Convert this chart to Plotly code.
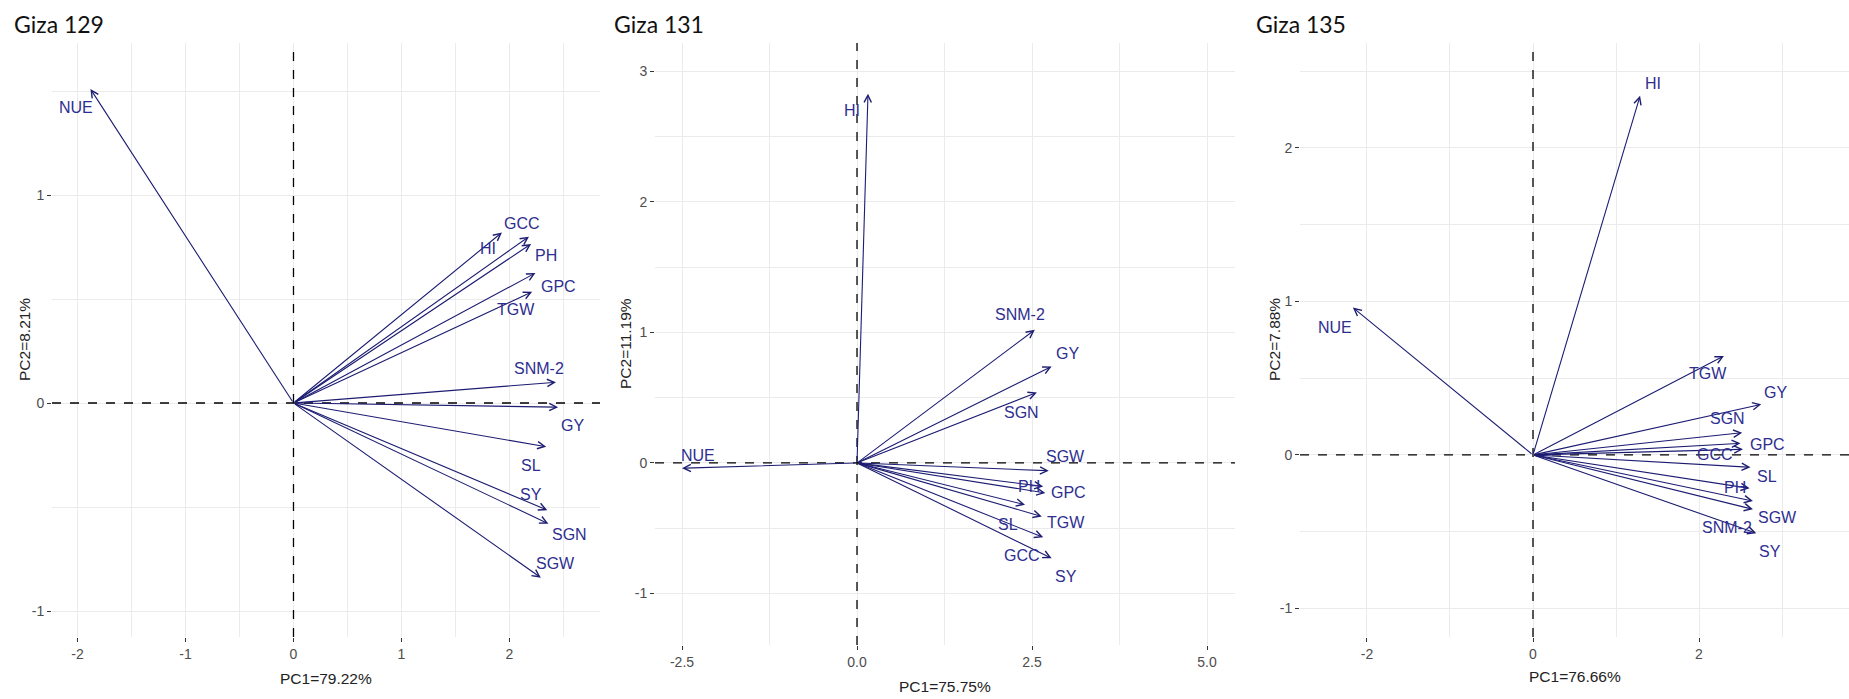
import plotly.graph_objects as go

# ---------------- data ----------------
titles = ["Giza 129", "Giza 131", "Giza 135"]
pc1_titles = ["PC1=79.22%", "PC1=75.75%", "PC1=76.66%"]
pc2_titles = ["PC2=8.21%", "PC2=11.19%", "PC2=7.88%"]

# Giza 129
vars_129 = ["NUE", "HI", "GCC", "PH", "GPC", "TGW", "SNM-2", "GY", "SL", "SY", "SGN", "SGW"]
pc1_129 = [-1.88, 1.93, 2.18, 2.20, 2.24, 2.21, 2.43, 2.45, 2.34, 2.35, 2.36, 2.29]
pc2_129 = [1.51, 0.82, 0.80, 0.765, 0.625, 0.535, 0.10, -0.02, -0.21, -0.515, -0.58, -0.84]
lab1_129 = [-2.01, 1.80, 2.12, 2.34, 2.45, 2.06, 2.27, 2.58, 2.20, 2.20, 2.56, 2.43]
lab2_129 = [1.42, 0.745, 0.865, 0.71, 0.56, 0.45, 0.165, -0.11, -0.30, -0.44, -0.63, -0.77]

# Giza 131
vars_131 = ["HI", "NUE", "SNM-2", "GY", "SGN", "SGW", "PH", "GPC", "SL", "TGW", "GCC", "SY"]
pc1_131 = [0.157, -2.50, 2.54, 2.78, 2.57, 2.74, 2.66, 2.69, 2.40, 2.64, 2.66, 2.78]
pc2_131 = [2.83, -0.04, 1.02, 0.74, 0.54, -0.06, -0.18, -0.23, -0.32, -0.41, -0.57, -0.73]
lab1_131 = [-0.07, -2.27, 2.33, 3.00, 2.35, 2.98, 2.45, 3.02, 2.16, 2.98, 2.35, 2.98]
lab2_131 = [2.70, 0.06, 1.14, 0.84, 0.39, 0.05, -0.18, -0.23, -0.47, -0.46, -0.71, -0.87]

# Giza 135
vars_135 = ["NUE", "HI", "TGW", "GY", "SGN", "GCC", "GPC", "SL", "PH", "SGW", "SY", "SNM-2"]
pc1_135 = [-2.17, 1.29, 2.30, 2.75, 2.52, 2.50, 2.53, 2.62, 2.61, 2.65, 2.65, 2.69]
pc2_135 = [0.96, 2.34, 0.645, 0.33, 0.145, 0.076, 0.037, -0.08, -0.217, -0.30, -0.354, -0.51]
lab1_135 = [-2.39, 1.45, 2.11, 2.92, 2.34, 2.19, 2.82, 2.82, 2.43, 2.94, 2.86, 2.34]
lab2_135 = [0.83, 2.42, 0.53, 0.41, 0.24, 0.00, 0.065, -0.14, -0.21, -0.41, -0.63, -0.475]

# tick labels
xt_129 = [-2, -1, 0, 1, 2]
yt_129 = [-1, 0, 1]
xt_131 = [-2.5, 0.0, 2.5, 5.0]
xtl_131 = ["-2.5", "0.0", "2.5", "5.0"]
yt_131 = [-1, 0, 1, 2, 3]
xt_135 = [-2, 0, 2]
yt_135 = [-1, 0, 1, 2]

# ---------------- layout helpers ----------------
W, H = 1849, 699
def px(v):
    return v / W
def py(v):
    return 1 - v / H

ARROW = "#1c1c72"
LABEL = "#2e2e90"
GRID = "#ebebeb"
NARROW = "Liberation Sans Narrow, Arial Narrow, Liberation Sans, Arial, sans-serif"

panels = [
    dict(vars=vars_129, x=pc1_129, y=pc2_129, lx=lab1_129, ly=lab2_129,
         dom_x=(52, 600), dom_y=(43, 637), xr=(-2.236, 2.838), yr=(-1.125, 1.731),
         xt=xt_129, xtl=[str(v) for v in xt_129], xminor=[-1.5, -0.5, 0.5, 1.5, 2.5],
         yt=yt_129, ytl=[str(v) for v in yt_129], yminor=[-0.5, 0.5, 1.5],
         title_x=12, ytitle_x=24, xtitle_y=678),
    dict(vars=vars_131, x=pc1_131, y=pc2_131, lx=lab1_131, ly=lab2_131,
         dom_x=(655, 1235), dom_y=(43, 645), xr=(-2.886, 5.4), yr=(-1.395, 3.218),
         xt=xt_131, xtl=xtl_131, xminor=[-1.25, 1.25, 3.75],
         yt=yt_131, ytl=[str(v) for v in yt_131], yminor=[-0.5, 0.5, 1.5, 2.5],
         title_x=612, ytitle_x=625, xtitle_y=686),
    dict(vars=vars_135, x=pc1_135, y=pc2_135, lx=lab1_135, ly=lab2_135,
         dom_x=(1300, 1849), dom_y=(43, 637), xr=(-2.807, 3.807), yr=(-1.186, 2.684),
         xt=xt_135, xtl=[str(v) for v in xt_135], xminor=[-1, 1, 3],
         yt=yt_135, ytl=[str(v) for v in yt_135], yminor=[-0.5, 0.5, 1.5, 2.5],
         title_x=1254, ytitle_x=1274, xtitle_y=676),
]

fig = go.Figure()
annotations = []
shapes = []
layout_axes = {}

for i, p in enumerate(panels):
    n = "" if i == 0 else str(i + 1)
    xa, ya = "x" + n, "y" + n
    common = dict(showgrid=True, gridcolor=GRID, gridwidth=1, zeroline=False,
                  showline=False, ticks="outside", ticklen=4, tickwidth=1,
                  tickcolor="#333333",
                  tickfont=dict(family=NARROW, size=14, color="#4d4d4d"),
                  fixedrange=True)
    layout_axes["xaxis" + n] = dict(
        common, domain=[px(p["dom_x"][0]), px(p["dom_x"][1])], range=list(p["xr"]),
        anchor=ya, tickmode="array", tickvals=p["xt"], ticktext=p["xtl"],
        minor=dict(tickvals=p["xminor"], showgrid=True, gridcolor=GRID, ticks=""))
    layout_axes["yaxis" + n] = dict(
        common, domain=[py(p["dom_y"][1]), py(p["dom_y"][0])], range=list(p["yr"]),
        anchor=xa, tickmode="array", tickvals=p["yt"], ticktext=p["ytl"],
        minor=dict(tickvals=p["yminor"], showgrid=True, gridcolor=GRID, ticks=""))

    # invisible trace so axes render
    fig.add_trace(go.Scatter(x=p["x"], y=p["y"], mode="markers",
                             marker=dict(size=1, opacity=0), hoverinfo="skip",
                             showlegend=False, xaxis=xa, yaxis=ya))

    # dashed reference lines at 0
    shapes.append(dict(type="line", xref=xa, yref=ya + " domain", x0=0, x1=0, y0=0, y1=1,
                       line=dict(color="black", width=1.3, dash="dash")))
    shapes.append(dict(type="line", xref=xa + " domain", yref=ya, x0=0, x1=1, y0=0, y1=0,
                       line=dict(color="black", width=1.3, dash="dash")))

    # arrows
    for v, x, y in zip(p["vars"], p["x"], p["y"]):
        annotations.append(dict(x=x, y=y, ax=0, ay=0, xref=xa, yref=ya,
                                axref=xa, ayref=ya, text="", showarrow=True,
                                arrowhead=5, arrowsize=1.3, arrowwidth=1.1,
                                arrowcolor=ARROW, standoff=0, startstandoff=0))
    # labels
    for v, x, y in zip(p["vars"], p["lx"], p["ly"]):
        annotations.append(dict(x=x, y=y, xref=xa, yref=ya, text=v, showarrow=False,
                                xanchor="center", yanchor="middle",
                                font=dict(family=NARROW, size=16, color=LABEL)))

    # panel title
    annotations.append(dict(x=px(p["title_x"]), y=py(24), xref="paper", yref="paper",
                            text=titles[i], showarrow=False, xanchor="left", yanchor="middle",
                            font=dict(family="Lato, Noto Sans, sans-serif", size=23, color="#111111")))
    # axis titles
    cx = (p["dom_x"][0] + p["dom_x"][1]) / 2
    cy = (p["dom_y"][0] + p["dom_y"][1]) / 2
    annotations.append(dict(x=px(cx), y=py(p["xtitle_y"]), xref="paper", yref="paper",
                            text=pc1_titles[i], showarrow=False, xanchor="center", yanchor="middle",
                            font=dict(family=NARROW, size=15.5, color="#222222")))
    annotations.append(dict(x=px(p["ytitle_x"]), y=py(cy), xref="paper", yref="paper",
                            text=pc2_titles[i], showarrow=False, xanchor="center", yanchor="middle",
                            textangle=-90,
                            font=dict(family=NARROW, size=15.5, color="#222222")))

fig.update_layout(
    width=W, height=H, margin=dict(l=0, r=0, t=0, b=0),
    paper_bgcolor="white", plot_bgcolor="white",
    showlegend=False, annotations=annotations, shapes=shapes,
    **layout_axes,
)

# remove the browser's default 8px body margin so the figure fills the window exactly
fig.write_html("out.html", config={"displayModeBar": False},
               post_script="document.body.style.margin='0';document.body.style.overflow='hidden';")
